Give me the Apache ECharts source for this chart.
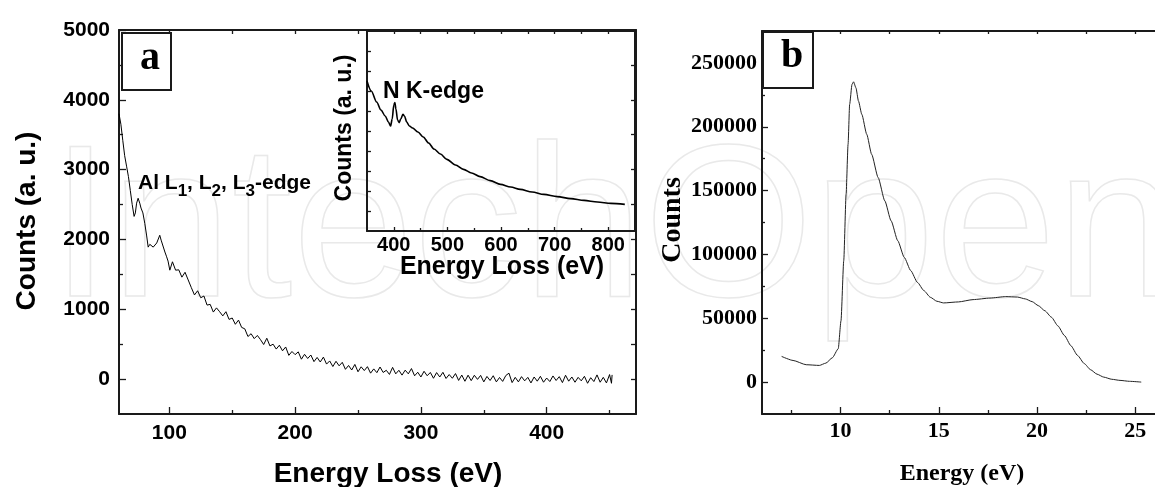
<!DOCTYPE html>
<html>
<head>
<meta charset="utf-8">
<script src="https://cdn.jsdelivr.net/npm/echarts@6/dist/echarts.min.js"></script>
<style>html,body{margin:0;padding:0;background:#fff;}#c{width:1155px;height:487px;}</style>
</head>
<body>
<div id="c"></div>
<script>
// ---------- Panel a: main EELS spectrum ----------
const mainEnergy = [60,61.5,63,64.5,66,67.5,69,70.5,72,73,74,75.2,76.5,77.5,79,80.5,82,83.2,84.5,86,87.2,88.5,90,91.2,92.4,93.5,95,96.5,97.7,99,100.4,
102.5,105,107.5,110,112.5,115,117.5,120,122.5,125,127.5,130,132.5,135,137.5,140,142.5,145,147.5,150,152.5,155,157.5,160,162.5,165,167.5,170,172.5,175,177.5,180,182.5,185,187.5,190,192.5,195,197.5,200,
202.5,205,207.5,210,212.5,215,217.5,220,222.5,225,227.5,230,232.5,235,237.5,240,242.5,245,247.5,250,252.5,255,257.5,260,262.5,265,267.5,270,272.5,275,277.5,280,282.5,285,287.5,290,292.5,295,297.5,300,
302.5,305,307.5,310,312.5,315,317.5,320,322.5,325,327.5,330,332.5,335,337.5,340,342.5,345,347.5,350,352.5,355,357.5,360,362.5,365,367.5,370,372.5,375,377.5,380,382.5,385,387.5,390,392.5,395,397.5,400,
402.5,405,407.5,410,412.5,415,417.5,420,422.5,425,427.5,430,432.5,435,437.5,440,442.5,445,447.5,450,451.5,452];
const mainCounts = [3800,3650,3420,3200,3050,2900,2700,2500,2330,2380,2520,2590,2520,2450,2380,2230,2050,1890,1930,1950,1890,1910,1950,1930,2060,1990,1970,1820,1760,1690,1560,
1680,1560,1565,1460,1530,1420,1310,1205,1265,1165,1190,1060,1070,960,1020,965,905,965,855,875,785,845,740,720,610,650,580,625,565,495,585,475,500,430,485,405,460,340,395,350,
390,285,355,295,345,250,310,245,315,215,260,180,255,190,240,140,195,130,210,105,176,122,178,85,146,92,173,95,126,67,168,75,126,57,128,75,151,47,98,30,
112,48,95,12,93,30,97,9,65,12,79,-19,58,-31,56,-22,55,-4,53,-40,38,-20,48,-40,23,-33,51,85,-50,25,-40,35,-25,25,-55,30,-30,40,-45,15,
-35,45,-20,35,-50,55,-30,30,-45,25,-25,40,-60,20,-35,60,-45,25,-55,65,-60,60];
const mainXMajor = [100,200,300,400];
const mainXMinor = [150,250,350,450];
const mainXTop = [100,150,200,250];
const mainYMajor = [0,1000,2000,3000,4000,5000];
const mainYMinor = [500,1500,2500,3500,4500];
const mainYRight = [0,500,1000,1500,2000,2500,3000,3500,4000,4500];

// ---------- Panel a inset: N K-edge ----------
const insetEnergy = [350,358,368,376,384,390,394,397,400,402,404,407,410,413,417,420,424,429,435,445,455,465,475,487,499,515,530,545,561,580,599,618,636,658,680,705,730,755,780,805,831];
const insetCounts = [6.5,6.0,5.45,5.05,4.75,4.45,4.25,4.6,5.3,5.42,5.1,4.55,4.42,4.6,4.83,4.75,4.45,4.25,4.15,3.95,3.7,3.4,3.1,2.85,2.58,2.3,2.08,1.9,1.72,1.52,1.33,1.2,1.08,0.95,0.83,0.72,0.62,0.53,0.45,0.38,0.33];
const insetXMajor = [400,500,600,700,800];
const insetXMinor = [450,550,650,750];
const insetXTop = [400,450,500,550,600,650,700,750,800];
const insetYTicks = [0,1,2,3,4,5,6,7,8];

// ---------- Panel b: low-loss spectrum ----------
const bEnergy = [7.0,7.58,8.25,8.92,9.25,9.58,9.88,10.02,10.16,10.28,10.38,10.46,10.58,10.66,10.78,10.91,11.08,11.33,11.58,11.91,12.25,12.57,12.91,13.24,13.57,13.91,14.24,14.57,14.9,15.24,16.0,16.74,17.6,18.4,19.0,19.4,19.75,20.06,20.4,20.73,21.06,21.39,21.72,22.06,22.4,22.72,23.05,23.39,23.8,24.22,24.7,25.3];
const bCounts = [20100,16950,13600,13050,14850,19050,26100,48000,95100,147200,186250,217500,233100,235200,230500,220100,209700,194100,178400,160200,141950,126300,110700,97650,87300,78100,71650,66400,63300,62000,62800,64600,65800,66950,66600,65150,63000,59900,55800,50800,44000,36500,28500,20860,14500,9690,6200,3900,2200,1330,600,0];
const bXMajor = [10,15,20,25];
const bXMinor = [7.5,12.5,17.5,22.5];
const bXTop = [7.5,10,12.5,15,17.5,20,22.5,25];
const bYMajor = [0,50000,100000,150000,200000,250000];
const bYMinor = [25000,75000,125000,175000,225000];

const SANS = '"Liberation Sans", Arial, sans-serif';
const SERIF = '"Liberation Serif", "Times New Roman", serif';
const INK = '#1a1a1a';

function ax(o) {
  return {
    type: 'value',
    gridIndex: o.grid,
    position: o.pos,
    min: o.min, max: o.max,
    z: o.z || 0,
    axisLine: {show: o.line !== false, onZero: false, lineStyle: {color: INK, width: 2}},
    axisTick: {show: true, inside: true, length: o.len || 4, customValues: o.ticks, lineStyle: {color: INK, width: 1.3}},
    axisLabel: o.labels ? {
      show: true, customValues: o.ticks, margin: o.margin,
      color: '#000', fontFamily: o.family, fontWeight: 'bold', fontSize: o.size,
      formatter: v => String(v)
    } : {show: false},
    splitLine: {show: false},
    minorTick: {show: false}
  };
}

const xAxes = [
  ax({grid:0,pos:'bottom',min:60,max:471,ticks:mainXMajor,len:7,labels:true,margin:9,family:SANS,size:21}),
  ax({grid:0,pos:'bottom',min:60,max:471,ticks:mainXMinor,len:4,line:false}),
  ax({grid:0,pos:'top',min:60,max:471,ticks:mainXTop,len:4}),
  ax({grid:1,pos:'bottom',min:350,max:850,ticks:insetXMajor,len:4,labels:true,margin:4,family:SANS,size:20,z:5}),
  ax({grid:1,pos:'bottom',min:350,max:850,ticks:insetXMinor,len:3,line:false,z:5}),
  ax({grid:1,pos:'top',min:350,max:850,ticks:insetXTop,len:3,z:5}),
  ax({grid:2,pos:'bottom',min:6,max:26,ticks:bXMajor,len:7,labels:true,margin:6,family:SERIF,size:22}),
  ax({grid:2,pos:'bottom',min:6,max:26,ticks:bXMinor,len:4,line:false}),
  ax({grid:2,pos:'top',min:6,max:26,ticks:bXTop,len:3})
];
const yAxes = [
  ax({grid:0,pos:'left',min:-500,max:5000,ticks:mainYMajor,len:7,labels:true,margin:9,family:SANS,size:21}),
  ax({grid:0,pos:'left',min:-500,max:5000,ticks:mainYMinor,len:4,line:false}),
  ax({grid:0,pos:'right',min:-500,max:5000,ticks:mainYRight,len:5,z:5}),
  ax({grid:1,pos:'left',min:-1,max:9,ticks:insetYTicks,len:4,z:5}),
  ax({grid:1,pos:'right',min:-1,max:9,ticks:[],len:0,z:5}),
  ax({grid:2,pos:'left',min:-25000,max:275000,ticks:bYMajor,len:6,labels:true,margin:5,family:SERIF,size:22}),
  ax({grid:2,pos:'left',min:-25000,max:275000,ticks:bYMinor,len:3,line:false})
];

function txt(x, y, text, font, opts) {
  opts = opts || {};
  return {
    type: 'text', x: x, y: y, rotation: opts.rot || 0, z: 10,
    style: {text: text, font: font, fill: '#000', align: opts.align || 'center', verticalAlign: 'middle'}
  };
}

const chart = echarts.init(document.getElementById('c'), null, {renderer: 'canvas'});
chart.setOption({
  animation: false,
  backgroundColor: '#fff',
  grid: [
    {left: 119, top: 30, width: 517, height: 384},
    {left: 367, top: 31, width: 268, height: 200, show: true, backgroundColor: '#fff', borderWidth: 0, z: -2},
    {left: 762, top: 31, width: 401, height: 383}
  ],
  xAxis: xAxes,
  yAxis: yAxes,
  series: [
    {type: 'line', xAxisIndex: 0, yAxisIndex: 0, showSymbol: false, z: 6,
     data: mainEnergy.map((e, i) => [e, mainCounts[i]]),
     lineStyle: {color: '#000', width: 1}},
    {type: 'line', xAxisIndex: 3, yAxisIndex: 3, showSymbol: false, smooth: 0.3, smoothMonotone: 'x', z: 6,
     data: insetEnergy.map((e, i) => [e, insetCounts[i]]),
     lineStyle: {color: '#000', width: 1.6}},
    {type: 'line', xAxisIndex: 6, yAxisIndex: 5, showSymbol: false, smooth: 0.2, smoothMonotone: 'x', z: 6,
     data: bEnergy.map((e, i) => [e, bCounts[i]]),
     lineStyle: {color: '#222', width: 1}}
  ],
  graphic: [
    {type: 'text', x: 50, y: 127, z: -1, silent: true,
     style: {text: 'IntechOpen', font: 'normal 218px ' + SANS, fill: 'none', stroke: '#e9e9e9', lineWidth: 1.5, align: 'left', verticalAlign: 'top'}},
    txt(388, 474, 'Energy Loss (eV)', 'bold 28px ' + SANS),
    txt(27, 221, 'Counts (a. u.)', 'bold 28px ' + SANS, {rot: Math.PI / 2}),
    txt(502, 267, 'Energy Loss (eV)', 'bold 25px ' + SANS),
    txt(345, 128, 'Counts (a. u.)', 'bold 23px ' + SANS, {rot: Math.PI / 2}),
    txt(383, 92, 'N K-edge', 'bold 23px ' + SANS, {align: 'left'}),
    {
      type: 'text', x: 138, y: 173, z: 10,
      style: {
        text: '{m|Al L}{s|1}{m|, L}{s|2}{m|, L}{s|3}{m|-edge}',
        align: 'left', verticalAlign: 'top',
        rich: {
          m: {fontSize: 21, fontWeight: 'bold', fontFamily: SANS, fill: '#000', lineHeight: 21, verticalAlign: 'top'},
          s: {fontSize: 17, fontWeight: 'bold', fontFamily: SANS, fill: '#000', lineHeight: 17, verticalAlign: 'top', padding: [10, 0, 0, 0]}
        }
      }
    },
    {type: 'rect', z: 9, shape: {x: 122, y: 33, width: 49, height: 57}, style: {fill: '#fff', stroke: INK, lineWidth: 2}},
    txt(150, 58.5, 'a', 'bold 40px ' + SERIF),
    {type: 'rect', z: 9, shape: {x: 763, y: 32, width: 50, height: 56}, style: {fill: '#fff', stroke: INK, lineWidth: 2}},
    txt(792, 56.5, 'b', 'bold 40px ' + SERIF),
    txt(673, 220, 'Counts', 'bold 28px ' + SERIF, {rot: Math.PI / 2}),
    txt(962, 474, 'Energy (eV)', 'bold 24px ' + SERIF)
  ]
});
</script>
</body>
</html>
